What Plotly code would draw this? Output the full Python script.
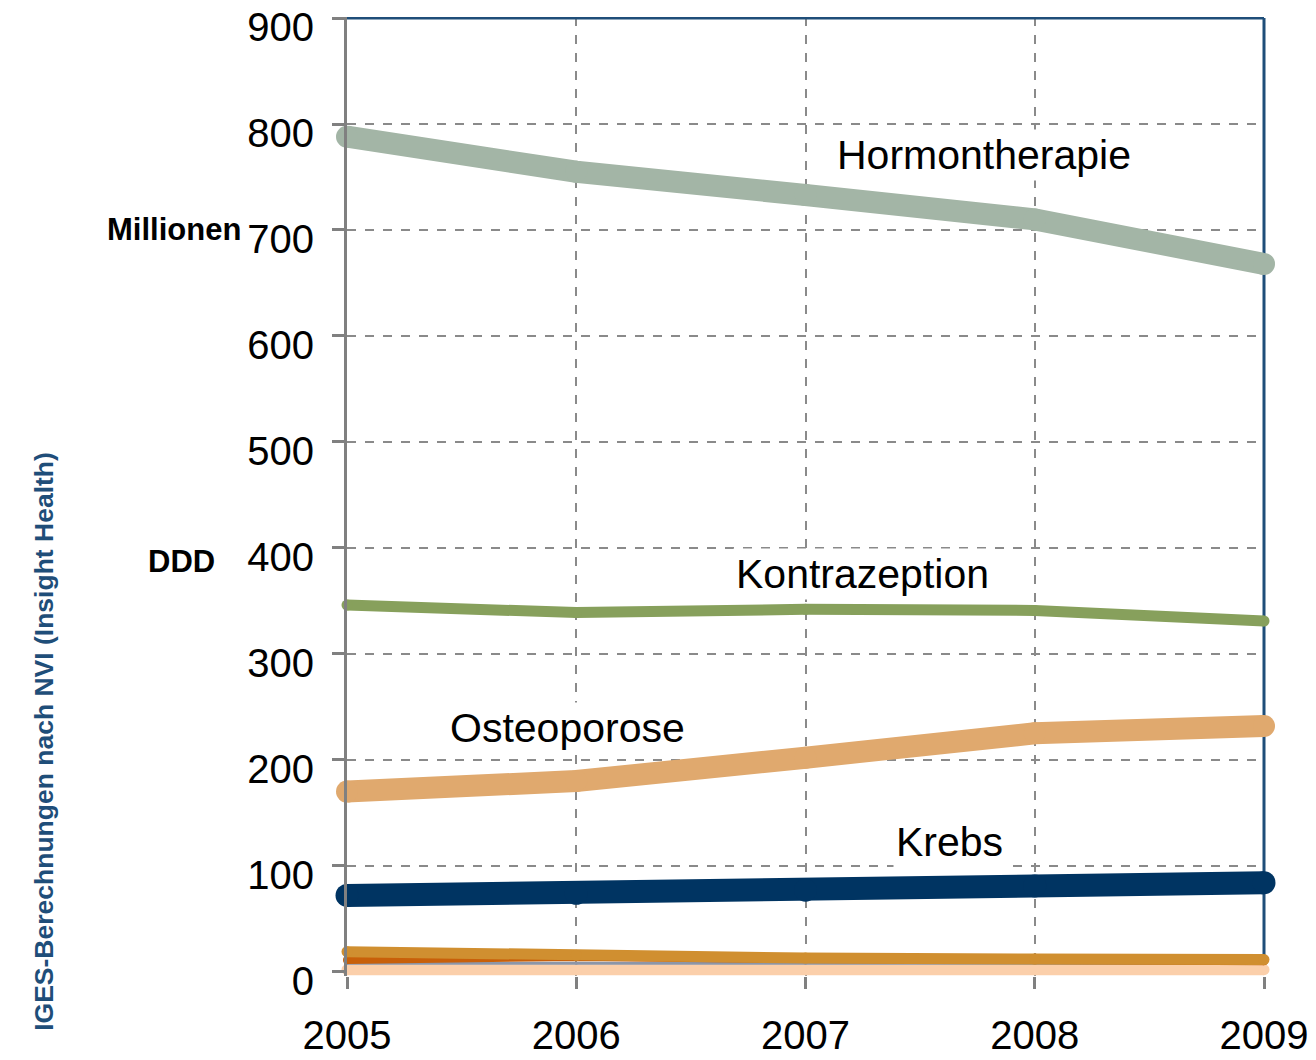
"""
    ddd_timeseries.py
"""
import plotly.graph_objs as go

years = [2005, 2006, 2007, 2008, 2009]

hormontherapie = [788, 755, 733, 710, 668]
kontrazeption = [346, 339, 342, 341, 331]
osteoporose = [170, 180, 202, 225, 232]
krebs = [72, 74, 77, 81, 84]
sonstige_orange = [19, 15.5, 13, 12, 11.5]
sonstige_rot = [11, 14, 12, 11, 10]
sonstige_grau = [8, 8, 8, 8, 8]
sonstige_hell = [2, 2, 2, 2, 2]

y_ticks = [0, 100, 200, 300, 400, 500, 600, 700, 800, 900]

series_labels = [
    ("Hormontherapie", 2007.78, 771),
    ("Kontrazeption", 2007.25, 375),
    ("Osteoporose", 2005.96, 230),
    ("Krebs", 2007.63, 122),
]

FONT = "Liberation Sans, Arial, sans-serif"


def line_trace(y, color, width):
    """Thick line with round ends (markers act as round caps)."""
    return go.Scatter(
        x=years,
        y=y,
        mode="lines+markers",
        line={"color": color, "width": width},
        marker={"color": color, "size": width, "line": {"width": 0}},
        cliponaxis=False,
        hoverinfo="skip",
        showlegend=False,
    )


traces = [
    line_trace(sonstige_hell, "#FBCFAA", 11),
    line_trace(sonstige_grau, "#8C96A8", 3),
    line_trace(sonstige_rot, "#C8600A", 8),
    line_trace(sonstige_orange, "#D08F30", 11),
    line_trace(krebs, "#003462", 23),
    line_trace(osteoporose, "#E0A96E", 22),
    line_trace(kontrazeption, "#87A05C", 11),
    line_trace(hormontherapie, "#A3B5A6", 22),
]

fig = go.Figure(data=traces)

annotations = []
for text, x, y in series_labels:
    annotations.append(
        {
            "text": text,
            "x": x,
            "y": y,
            "xref": "x",
            "yref": "y",
            "showarrow": False,
            "bgcolor": "white",
            "borderpad": 2,
            "font": {"size": 41, "color": "black", "family": FONT},
        }
    )

annotations += [
    {
        "text": "<b>Millionen</b>",
        "x": (243 - 347) / 917,
        "y": 700,
        "xref": "paper",
        "yref": "y",
        "xanchor": "right",
        "showarrow": False,
        "font": {"size": 31, "color": "black", "family": FONT},
    },
    {
        "text": "<b>DDD</b>",
        "x": (217 - 347) / 917,
        "y": 387,
        "xref": "paper",
        "yref": "y",
        "xanchor": "right",
        "showarrow": False,
        "font": {"size": 31, "color": "black", "family": FONT},
    },
    {
        "text": "<b>IGES-Berechnungen nach NVI (Insight Health)</b>",
        "x": (27 - 347) / 917,
        "y": 217,
        "xref": "paper",
        "yref": "y",
        "textangle": -90,
        "showarrow": False,
        "font": {"size": 26.5, "color": "#1F4E79", "family": FONT},
    },
]

# blue frame on top and right side
shapes = [
    {
        "type": "line", "xref": "paper", "yref": "y",
        "x0": 0, "x1": 1, "y0": 900, "y1": 900,
        "line": {"color": "#1F4E79", "width": 3}, "layer": "above",
    },
    {
        "type": "line", "xref": "paper", "yref": "y",
        "x0": 1, "x1": 1, "y0": 10, "y1": 900,
        "line": {"color": "#1F4E79", "width": 3}, "layer": "between",
    },
]

fig.update_layout(
    width=1316,
    height=1060,
    margin={"l": 347, "r": 52, "t": 17, "b": 84},
    paper_bgcolor="white",
    plot_bgcolor="white",
    font={"family": FONT, "color": "black"},
    annotations=annotations,
    shapes=shapes,
    xaxis={
        "range": [2005, 2009],
        "tickvals": years,
        "ticktext": [str(y) for y in years],
        "automargin": False,
        "showgrid": True,
        "gridcolor": "#8A8A8A",
        "gridwidth": 2,
        "griddash": "dash",
        "showline": False,
        "zeroline": False,
        "ticks": "outside",
        "ticklen": 12,
        "tickwidth": 3,
        "tickcolor": "#808080",
        "ticklabelstandoff": 12,
        "tickfont": {"size": 40, "color": "black"},
    },
    yaxis={
        "range": [-4, 901],
        "tickvals": y_ticks,
        "automargin": False,
        "showgrid": True,
        "gridcolor": "#8A8A8A",
        "gridwidth": 2,
        "griddash": "dash",
        "showline": True,
        "linecolor": "#808080",
        "linewidth": 3,
        "zeroline": False,
        "ticks": "outside",
        "ticklen": 12,
        "tickwidth": 3,
        "tickcolor": "#808080",
        "ticklabelstandoff": 10,
        "ticklabelshift": 9,
        "tickfont": {"size": 40, "color": "black"},
    },
)

# page margin off, so the figure sits at the window's top-left corner
fig.write_html(
    "out.html",
    config={"displayModeBar": False},
    post_script="document.body.style.margin='0';",
)
